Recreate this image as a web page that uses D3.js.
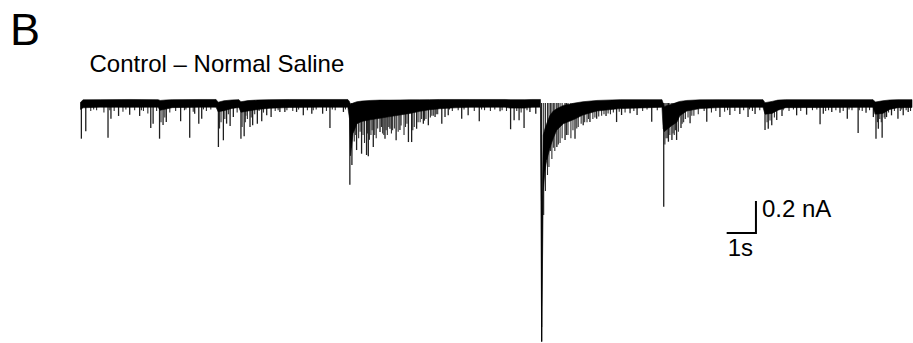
<!DOCTYPE html>
<html>
<head>
<meta charset="utf-8">
<script src="https://cdn.jsdelivr.net/npm/d3@7"></script>
<style>
  html, body { margin: 0; padding: 0; background: #fff; }
  svg { display: block; }
  text { font-family: "Liberation Sans", Arial, Helvetica, sans-serif; fill: #000; }
</style>
</head>
<body>
<svg id="chart" width="913" height="343"></svg>
<script>
// ---------------- DATA (time in s, current in nA) ----------------
const panelLabel = "B";
const title = "Control – Normal Saline";
const traceDuration = 28.4;          // s
const scaleBarTime = 1;              // s
const scaleBarCurrent = 0.2;         // nA
const scaleBarTimeLabel = "1s";
const scaleBarCurrentLabel = "0.2 nA";

// noise-band envelope of the holding current
const envT  = [0, 0.09, 0.67, 1.69, 2.65, 2.72, 2.92, 3.13, 4.08, 4.63, 4.70, 4.90, 5.17, 5.41, 5.48, 5.72, 6.06, 6.47, 7.15, 8.18, 9.13, 9.19, 9.22, 9.31, 9.44, 9.61, 9.89, 10.23, 10.57, 10.91, 11.25, 11.59, 11.93, 12.27, 12.79, 13.30, 14.50, 14.67, 15.18, 15.42, 15.71, 15.727, 15.738, 15.751, 15.768, 15.806, 15.864, 15.922, 16.035, 16.148, 16.264, 16.489, 16.889, 17.16, 17.64, 18.43, 19.45, 19.86, 19.90, 19.945, 19.996, 20.20, 20.37, 20.47, 20.71, 21.16, 21.84, 23.31, 23.38, 23.62, 23.82, 24.09, 27.07, 27.15, 27.40, 27.64, 27.92, 28.4];
const envHi = [0.005, 0.020, 0.021, 0.022, 0.021, 0.016, 0.019, 0.021, 0.022, 0.022, 0.005, 0.014, 0.019, 0.021, 0.008, 0.015, 0.019, 0.021, 0.022, 0.022, 0.022, 0.008, -0.010, 0.000, 0.008, 0.012, 0.016, 0.018, 0.018, 0.019, 0.020, 0.020, 0.021, 0.022, 0.022, 0.022, 0.022, 0.021, 0.021, 0.022, 0.022, -0.20, -0.50, -1.40, -0.60, -0.20, -0.16, -0.13, -0.077, -0.050, -0.036, -0.015, 0.000, 0.008, 0.016, 0.021, 0.021, 0.021, 0.000, -0.025, -0.018, -0.008, 0.004, 0.010, 0.016, 0.020, 0.021, 0.021, 0.002, 0.010, 0.018, 0.021, 0.021, 0.006, 0.014, 0.019, 0.021, 0.021];
const envLo = [-0.040, -0.030, -0.026, -0.027, -0.026, -0.045, -0.038, -0.029, -0.026, -0.026, -0.055, -0.048, -0.034, -0.028, -0.058, -0.050, -0.040, -0.033, -0.028, -0.026, -0.027, -0.10, -0.33, -0.19, -0.13, -0.115, -0.105, -0.095, -0.085, -0.075, -0.065, -0.052, -0.042, -0.036, -0.030, -0.027, -0.026, -0.032, -0.032, -0.027, -0.026, -0.60, -1.10, -1.49, -1.20, -0.55, -0.42, -0.36, -0.28, -0.22, -0.17, -0.13, -0.10, -0.075, -0.050, -0.035, -0.029, -0.027, -0.16, -0.18, -0.17, -0.14, -0.12, -0.08, -0.050, -0.035, -0.028, -0.027, -0.07, -0.065, -0.045, -0.029, -0.027, -0.07, -0.065, -0.040, -0.029, -0.028];

// individual synaptic events (peak amplitude)
const eventT = [0.03, 0.18, 0.94, 1.04, 1.30, 1.68, 2.02, 2.40, 2.48, 2.70, 2.82, 2.93, 3.42, 3.73, 3.90, 4.04, 4.14, 4.71, 4.88, 4.99, 5.11, 5.22, 5.48, 5.59, 5.79, 5.88, 6.04, 6.19, 6.36, 6.51, 6.81, 6.98, 7.38, 7.61, 7.90, 8.27, 8.52, 8.98, 9.20, 9.27, 9.43, 9.60, 9.77, 9.83, 10.00, 10.23, 10.40, 10.57, 10.78, 10.91, 11.20, 11.31, 11.48, 11.71, 11.88, 12.11, 12.34, 12.45, 12.56, 13.02, 13.24, 13.62, 14.33, 14.69, 14.81, 14.98, 15.15, 15.35, 15.55, 15.75, 16.27, 16.55, 16.89, 17.17, 17.40, 17.63, 17.95, 18.31, 18.48, 18.77, 19.01, 19.51, 19.92, 20.08, 20.20, 20.36, 20.51, 20.82, 21.39, 21.84, 22.18, 22.52, 22.80, 23.04, 23.38, 23.49, 23.61, 23.78, 23.96, 24.46, 24.80, 25.26, 25.37, 25.66, 25.94, 26.19, 26.56, 26.83, 27.08, 27.17, 27.25, 27.38, 27.53, 27.70, 27.92, 28.10, 28.27];
const eventAmp = [-0.223, -0.177, -0.217, -0.098, -0.081, -0.073, -0.081, -0.156, -0.129, -0.223, -0.138, -0.119, -0.114, -0.217, -0.067, -0.129, -0.098, -0.275, -0.233, -0.129, -0.144, -0.088, -0.223, -0.208, -0.150, -0.139, -0.129, -0.114, -0.077, -0.088, -0.056, -0.056, -0.056, -0.077, -0.067, -0.067, -0.156, -0.056, -0.511, -0.388, -0.294, -0.317, -0.325, -0.333, -0.275, -0.181, -0.223, -0.161, -0.233, -0.169, -0.244, -0.244, -0.161, -0.129, -0.139, -0.088, -0.129, -0.088, -0.077, -0.098, -0.077, -0.114, -0.052, -0.164, -0.108, -0.108, -0.156, -0.056, -0.067, -1.492, -0.275, -0.231, -0.223, -0.139, -0.119, -0.098, -0.081, -0.119, -0.075, -0.064, -0.075, -0.117, -0.648, -0.242, -0.231, -0.231, -0.156, -0.127, -0.117, -0.088, -0.075, -0.069, -0.088, -0.069, -0.169, -0.161, -0.139, -0.106, -0.081, -0.077, -0.073, -0.133, -0.067, -0.056, -0.061, -0.098, -0.188, -0.061, -0.088, -0.223, -0.161, -0.217, -0.088, -0.077, -0.098, -0.077, -0.056];

// smaller events forming the ragged lower edge of the band
const minorT = [0.35, 0.45, 0.55, 0.80, 1.00, 1.15, 1.45, 1.55, 1.85, 2.08, 2.15, 2.30, 2.60, 2.75, 2.88, 3.05, 3.25, 3.55, 3.60, 3.85, 4.20, 4.30, 4.45, 4.75, 4.80, 4.93, 5.05, 5.35, 5.52, 5.63, 5.65, 5.70, 5.83, 5.95, 6.10, 6.25, 6.65, 6.75, 7.05, 7.25, 7.45, 7.75, 7.95, 8.05, 8.40, 8.60, 8.70, 9.05,
  9.25, 9.35, 9.40, 9.50, 9.55, 9.65, 9.70, 9.80, 9.87, 9.92, 9.96, 10.05, 10.10, 10.15, 10.28, 10.32, 10.36, 10.44, 10.48, 10.53, 10.62, 10.66, 10.72, 10.85, 10.95, 11.05, 11.10, 11.15, 11.35, 11.40, 11.53, 11.60, 11.65, 11.75, 11.80, 11.95, 12.00, 12.05, 12.15, 12.20,
  12.60, 12.70, 12.90, 13.10, 13.45, 13.70, 13.80, 14.00, 14.15, 14.40, 14.55, 14.90, 15.05, 15.25,
  15.82, 15.88, 15.95, 16.00, 16.05, 16.10, 16.15, 16.20, 16.32, 16.38, 16.45, 16.60, 16.65, 16.75, 16.82, 16.95, 17.00, 17.10, 17.22, 17.30, 17.35, 17.50, 17.57, 17.70, 17.80, 17.88, 18.02, 18.10, 18.20, 18.40, 18.60, 18.90, 19.20, 19.35, 19.70,
  19.96, 20.00, 20.04, 20.13, 20.24, 20.28, 20.32, 20.42, 20.55, 20.60, 20.66, 20.75, 20.88, 20.95, 21.10, 21.30, 21.55, 21.70, 22.00, 22.10, 22.35, 22.65, 22.85, 22.95, 23.20,
  23.45, 23.55, 23.70, 24.00, 24.20, 24.35, 24.60, 25.00, 25.15, 25.45, 25.55, 25.80, 26.05, 26.25, 26.35, 26.60, 26.70, 26.95, 27.10, 27.22, 27.30, 27.35, 27.45, 27.48, 27.60, 27.80, 28.00, 28.05, 28.20, 28.35];
const minorAmp = [-0.05, -0.04, -0.045, -0.06, -0.045, -0.05, -0.055, -0.04, -0.045, -0.045, -0.05, -0.065, -0.05, -0.12, -0.09, -0.06, -0.05, -0.045, -0.04, -0.055, -0.04, -0.05, -0.04, -0.16, -0.12, -0.10, -0.07, -0.06, -0.15, -0.12, -0.08, -0.10, -0.09, -0.07, -0.05, -0.06, -0.05, -0.045, -0.045, -0.05, -0.04, -0.045, -0.045, -0.04, -0.05, -0.04, -0.045, -0.04,
  -0.28, -0.24, -0.20, -0.22, -0.18, -0.20, -0.25, -0.19, -0.23, -0.20, -0.17, -0.20, -0.22, -0.16, -0.15, -0.19, -0.20, -0.17, -0.20, -0.15, -0.19, -0.17, -0.16, -0.18, -0.14, -0.20, -0.15, -0.13, -0.17, -0.15, -0.12, -0.12, -0.10, -0.11, -0.10, -0.09, -0.08, -0.08, -0.07, -0.07,
  -0.04, -0.05, -0.045, -0.04, -0.05, -0.04, -0.045, -0.05, -0.04, -0.045, -0.05, -0.05, -0.06, -0.045,
  -0.70, -0.55, -0.45, -0.40, -0.30, -0.35, -0.28, -0.30, -0.26, -0.25, -0.22, -0.20, -0.20, -0.22, -0.17, -0.16, -0.15, -0.13, -0.12, -0.12, -0.10, -0.10, -0.09, -0.085, -0.08, -0.07, -0.065, -0.07, -0.06, -0.055, -0.06, -0.05, -0.05, -0.04, -0.045,
  -0.26, -0.22, -0.22, -0.20, -0.19, -0.20, -0.17, -0.18, -0.13, -0.12, -0.10, -0.09, -0.08, -0.08, -0.07, -0.05, -0.06, -0.05, -0.055, -0.045, -0.05, -0.045, -0.04, -0.05, -0.045,
  -0.12, -0.11, -0.09, -0.045, -0.05, -0.04, -0.05, -0.045, -0.04, -0.05, -0.045, -0.045, -0.05, -0.04, -0.045, -0.045, -0.05, -0.045, -0.07, -0.12, -0.10, -0.12, -0.09, -0.10, -0.06, -0.05, -0.05, -0.04, -0.045, -0.05];

// ---------------- LAYOUT ----------------
const svg = d3.select("#chart");
const x = d3.scaleLinear().domain([0, traceDuration]).range([80.5, 912]);
const y = d3.scaleLinear().domain([0.05, -1.5]).range([95, 343]);

const env = envT.map((t, i) => ({ t, hi: envHi[i], lo: envLo[i] }));
const events = eventT.map((t, i) => ({ t, v: eventAmp[i] }));
const minors = minorT.map((t, i) => ({ t, v: minorAmp[i] }));

// spikes behind band
const spikeG = svg.append("g");
spikeG.selectAll("line.minor").data(minors).join("line")
  .attr("class", "minor")
  .attr("x1", d => x(d.t)).attr("x2", d => x(d.t))
  .attr("y1", y(0)).attr("y2", d => y(d.v))
  .attr("stroke", "#2e2e2e").attr("stroke-width", 1.1);
spikeG.selectAll("line.evt").data(events).join("line")
  .attr("class", "evt")
  .attr("x1", d => x(d.t)).attr("x2", d => x(d.t))
  .attr("y1", y(0)).attr("y2", d => y(d.v))
  .attr("stroke", "#1e1e1e").attr("stroke-width", 1.3);

// noise band
const area = d3.area()
  .x(d => x(d.t))
  .y0(d => y(d.lo))
  .y1(d => y(d.hi));
svg.append("path").datum(env)
  .attr("d", area)
  .attr("fill", "#000")
  .attr("stroke", "#000")
  .attr("stroke-width", 0.6)
  .attr("stroke-linejoin", "round");

// scale bar
const sbT = 23.07, sbV = -0.8125;
svg.append("path")
  .attr("d", `M${x(sbT - scaleBarTime)},${y(sbV)}H${x(sbT)}V${y(sbV + scaleBarCurrent)}`)
  .attr("fill", "none").attr("stroke", "#000").attr("stroke-width", 2);
svg.append("text").attr("x", x(sbT) + 6).attr("y", 216.5)
  .attr("font-size", 24).text(scaleBarCurrentLabel);
svg.append("text").attr("x", x(sbT - scaleBarTime) + 1).attr("y", 256)
  .attr("font-size", 24).text(scaleBarTimeLabel);

// labels
svg.append("text").attr("x", 10).attr("y", 45)
  .attr("font-size", 45).text(panelLabel);
svg.append("text").attr("x", 89.5).attr("y", 71.5)
  .attr("font-size", 24).text(title);
</script>
</body>
</html>
